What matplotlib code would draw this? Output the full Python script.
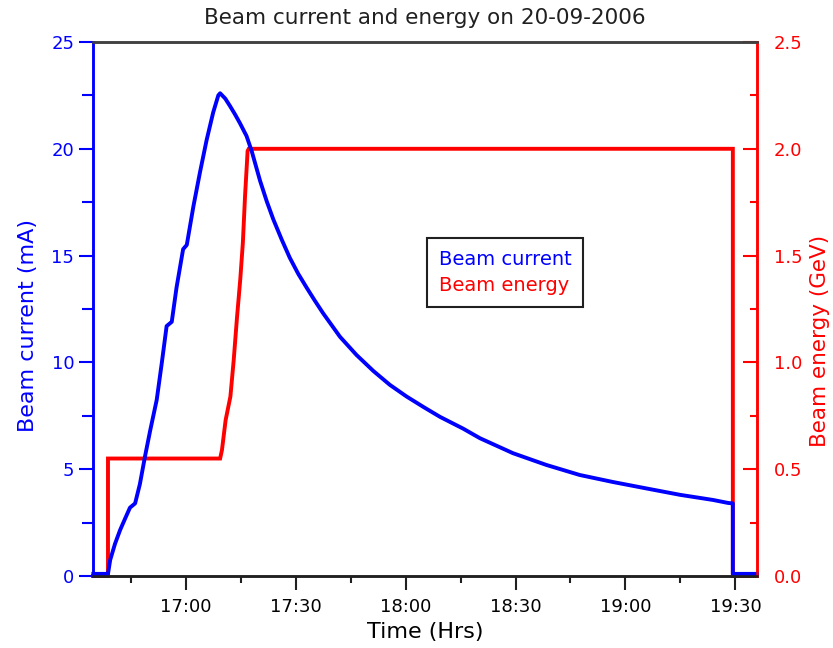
import matplotlib
matplotlib.use("Agg")
import matplotlib.pyplot as plt
from matplotlib.ticker import MultipleLocator, FuncFormatter
from matplotlib.lines import Line2D

# time in minutes after 16:00
current_t = [34.8, 38.8, 39.4, 40.7, 42.1, 43.5, 44.8, 46.2, 47.5, 48.9, 50.3, 52.1,
             53.5, 54.8, 56.2, 57.5, 59.3, 60.3, 62.1, 63.9, 65.7, 67.5, 68.9, 69.4,
             70.8, 72.1, 73.5, 74.8, 76.6, 78.0, 80.3, 82.1, 83.9, 86.2, 88.4, 90.7,
             93.0, 95.2, 97.5, 102.1, 106.6, 111.2, 115.7, 120.3, 125.0, 129.4, 135.7,
             140.3, 149.3, 158.4, 167.5, 176.6, 185.7, 194.9, 203.9, 208.0, 209.3,
             209.3, 215.9]
current_ma = [0.1, 0.1, 0.75, 1.5, 2.15, 2.7, 3.2, 3.4, 4.3, 5.6, 6.8, 8.25,
              10.0, 11.7, 11.9, 13.5, 15.3, 15.5, 17.3, 18.9, 20.4, 21.7, 22.5, 22.6,
              22.35, 22.0, 21.6, 21.2, 20.6, 19.9, 18.5, 17.55, 16.7, 15.75, 14.9, 14.15,
              13.5, 12.9, 12.3, 11.2, 10.35, 9.6, 8.95, 8.4, 7.9, 7.45, 6.9,
              6.45, 5.75, 5.2, 4.73, 4.4, 4.1, 3.8, 3.56, 3.42, 3.4,
              0.1, 0.1]

energy_t = [34.7, 38.8, 38.8, 69.4, 69.9, 70.9, 72.2, 73.1, 74.0, 74.9, 75.6,
            76.2, 76.9, 77.2, 209.3, 209.3, 215.9]
energy_gev = [0.0, 0.0, 0.55, 0.55, 0.59, 0.73, 0.84, 1.01, 1.21, 1.39, 1.56,
              1.78, 1.99, 2.0, 2.0, 0.0, 0.0]

BLUE = "#0000ff"
RED = "#ff0000"

plt.rcParams['font.family'] = ['DejaVu Sans']

fig = plt.figure(figsize=(8.33, 6.48), dpi=100)
ax1 = fig.add_axes([0.1116, 0.1111, 0.7972, 0.8241])
ax2 = ax1.twinx()

ax1.plot(current_t, current_ma, color=BLUE, lw=2.8, clip_on=False)
ax2.plot(energy_t, energy_gev, color=RED, lw=2.8, clip_on=False, solid_joinstyle='miter')

# current axis drawn above energy axis
ax1.set_zorder(ax2.get_zorder() + 1)
ax1.patch.set_visible(False)

ax1.set_xlim(34.7, 215.9)
ax1.set_ylim(0, 25)
ax2.set_ylim(0, 2.5)

ax1.xaxis.set_major_locator(MultipleLocator(30))
ax1.xaxis.set_minor_locator(MultipleLocator(15))
ax1.xaxis.set_major_formatter(FuncFormatter(lambda v, p: "%d:%02d" % (16 + int(v) // 60, int(v) % 60)))
ax1.yaxis.set_major_locator(MultipleLocator(5))
ax1.yaxis.set_minor_locator(MultipleLocator(2.5))
ax2.yaxis.set_major_locator(MultipleLocator(0.5))
ax2.yaxis.set_minor_locator(MultipleLocator(0.25))
ax2.yaxis.set_major_formatter(FuncFormatter(lambda v, p: "%.1f" % v))

ax1.tick_params(axis='x', which='major', length=10, width=1.5, color='#202020', labelsize=13, pad=6)
ax1.tick_params(axis='x', which='minor', length=5, width=1.5, color='#202020')
ax1.tick_params(axis='y', which='major', length=10, width=1.5, color=BLUE, labelcolor=BLUE, labelsize=13)
ax1.tick_params(axis='y', which='minor', length=8, width=1.5, color=BLUE)
ax2.tick_params(axis='y', which='major', direction='in', length=10, width=1.5, color=RED, labelcolor=RED, labelsize=13, pad=12)
ax2.tick_params(axis='y', which='minor', direction='in', length=5, width=1.5, color=RED)

for ax in (ax1, ax2):
    ax.spines['left'].set_color(BLUE)
    ax.spines['right'].set_color(RED)
    ax.spines['top'].set_color('#404040')
    ax.spines['bottom'].set_color('#202020')
    for s in ax.spines.values():
        s.set_linewidth(1.8)

ax1.set_xlabel("Time (Hrs)", fontsize=16, labelpad=4)
ax1.set_ylabel("Beam current (mA)", fontsize=16, color=BLUE)
ax1.yaxis.set_label_coords(-0.083, 0.47)
ax2.set_ylabel("Beam energy (GeV)", fontsize=15.5, color=RED)
ax2.yaxis.set_label_coords(1.08, 0.44)
ax1.set_title("Beam current and energy on 20-09-2006", fontsize=15.5, color='#202020', pad=13)

handles = [Line2D([], [], color=BLUE, lw=0), Line2D([], [], color=RED, lw=0)]
leg = ax1.legend(handles, ["Beam current", "Beam energy"], loc='upper left',
                 bbox_to_anchor=(0.503, 0.633), borderaxespad=0, handlelength=0,
                 handletextpad=0, fontsize=14, fancybox=False, framealpha=1,
                 edgecolor='#202020', labelcolor='linecolor', borderpad=0.6,
                 labelspacing=0.4)
leg.get_frame().set_linewidth(1.5)

fig.savefig("out.png", dpi=100)
